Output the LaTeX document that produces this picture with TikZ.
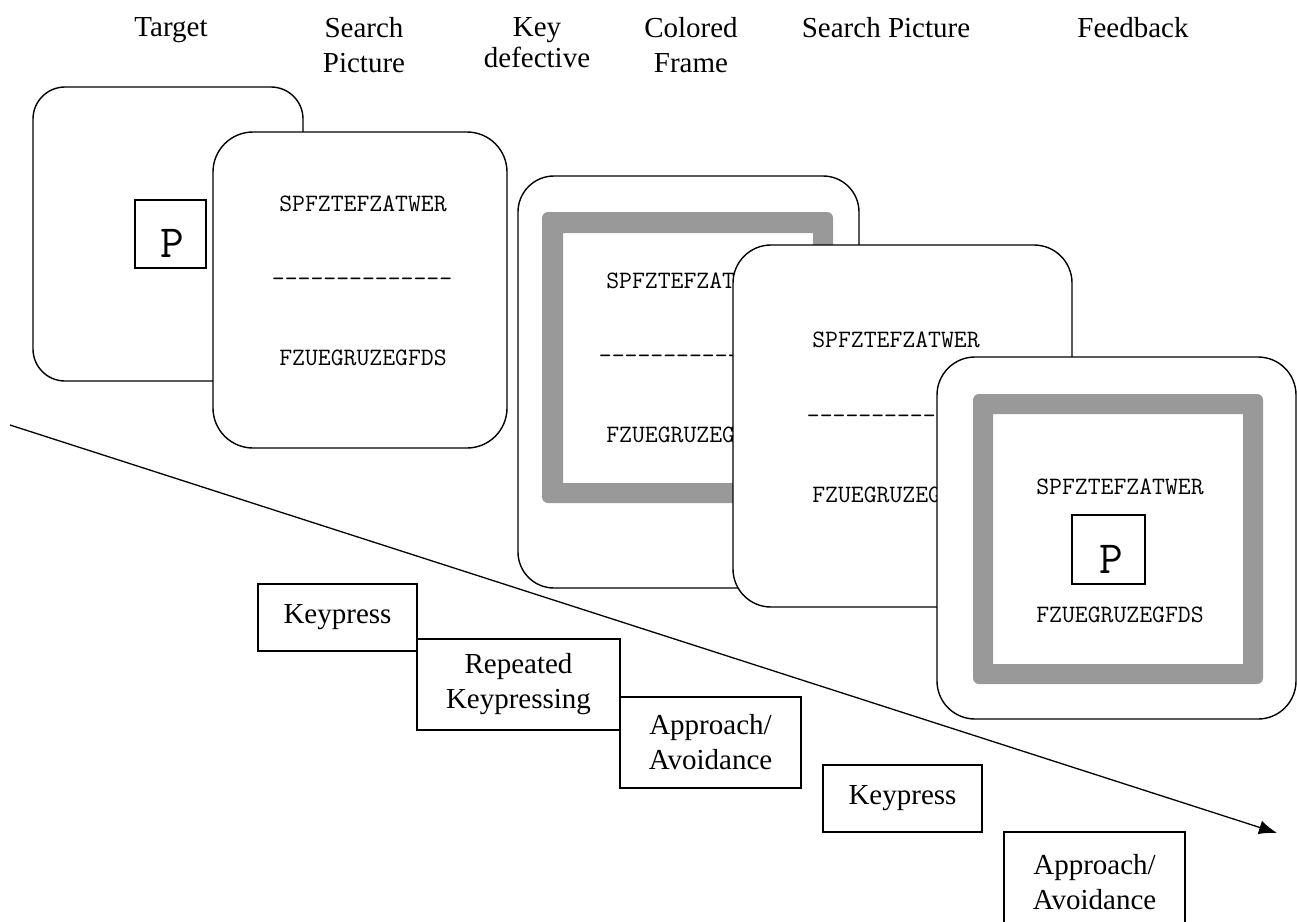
\documentclass[tikz,border=0pt]{standalone}
\usepackage{fontspec}
\setmainfont{Liberation Serif}
\usetikzlibrary{arrows.meta}
\definecolor{framegray}{RGB}{153,153,153}
\newcommand\screenfont{\ttfamily\addfontfeatures{Ligatures=TeXOff}}
\tikzset{
  card/.style={draw=black, fill=white, line width=1.4pt},
  lbl/.style={anchor=north, inner sep=0pt, align=center, font=\fontsize{29}{35}\selectfont},
  mono/.style={anchor=base, inner sep=0pt, font=\screenfont\fontsize{25}{28}\selectfont},
  bigp/.style={anchor=base, inner sep=0pt, font=\screenfont\fontsize{46}{50}\selectfont},
  pbox/.style={draw, line width=1.2pt, fill=white, inner sep=0pt},
  resp/.style={draw, line width=1.3pt, fill=white, align=center, inner sep=0pt,
               font=\fontsize{29}{35}\selectfont},
}
\begin{document}
\begin{tikzpicture}[x=1pt, y=-1pt]
\useasboundingbox (0,0) rectangle (1297,921);
\fill[white] (0,0) rectangle (1297,921);

% phase headings
\node[lbl] (hTarget) at (171,17.5) {Target};
\node[lbl] (hSearch) at (364,17.5) {Search\\Picture};
\node[lbl, font=\fontsize{29}{31}\selectfont] (hKey) at (537,17.5) {Key\\defective};
\node[lbl] (hFrame) at (691,17.5) {Colored\\Frame};
\node[lbl] (hSearchB) at (886,17.5) {Search Picture};
\node[lbl] (hFeedback) at (1133,17.5) {Feedback};

% screen 1: target letter
\draw[card, rounded corners=32pt] (33,87) rectangle (303,381);
\node[pbox, minimum width=71pt, minimum height=68pt] (pboxA) at (170.5,234) {};
\node[bigp] (pA) at (172.5,257) {P};

% screen 2: search picture
\draw[card, rounded corners=40pt] (213,132) rectangle (507,448);
\node[mono] (s2a) at (363,211) {SPFZTEFZATWER};
\node[mono] (s2b) at (362,286) {--------------};
\node[mono] (s2c) at (363,365.5) {FZUEGRUZEGFDS};

% screen 3: key defective, coloured frame
\draw[card, rounded corners=36pt] (518,176) rectangle (859,588);
\fill[framegray, even odd rule, rounded corners=6pt] (542,212) rectangle (833,503)
  [sharp corners] (563,233) rectangle (813,483);
\node[mono] (s3a) at (690,288) {SPFZTEFZATWER};
\node[mono] (s3b) at (689,363) {--------------};
\node[mono] (s3c) at (690,442) {FZUEGRUZEGFDS};

% screen 4: search picture again
\draw[card, rounded corners=38pt] (733,245) rectangle (1072,607);
\node[mono] (s4a) at (896,347) {SPFZTEFZATWER};
\node[mono] (s4b) at (897,423) {--------------};
\node[mono] (s4c) at (896,502) {FZUEGRUZEGFDS};

% screen 5: feedback
\draw[card, rounded corners=38pt] (937,357) rectangle (1296,719);
\fill[framegray, even odd rule, rounded corners=6pt] (973,394) rectangle (1263,684)
  [sharp corners] (993,414) rectangle (1243,664);
\node[mono] (s5a) at (1120,494) {SPFZTEFZATWER};
\node[pbox, minimum width=73pt, minimum height=69pt] (pboxB) at (1108.5,549.5) {};
\node[bigp] (pB) at (1111,573) {P};
\node[mono] (s5c) at (1120,622) {FZUEGRUZEGFDS};

% time line
\coordinate (tStart) at (10,425);
\coordinate (tEnd) at (1277,833);
\draw[line width=1.3pt, -{Latex[length=18pt,width=14pt]}] (tStart) -- (tEnd);

% responses
\node[resp, minimum width=159pt, minimum height=67pt] (r1) at (337.5,617.5) {Keypress};
\node[resp, minimum width=203pt, minimum height=91pt] (r2) at (518.5,684.5) {Repeated\\Keypressing};
\node[resp, minimum width=181pt, minimum height=91pt] (r3) at (710.5,742.5) {Approach/\\Avoidance};
\node[resp, minimum width=159pt, minimum height=67pt] (r4) at (902.5,798.5) {Keypress};
\node[resp, minimum width=181pt, minimum height=100pt] (r5) at (1094.5,882) {Approach/\\Avoidance};
\end{tikzpicture}
\end{document}
